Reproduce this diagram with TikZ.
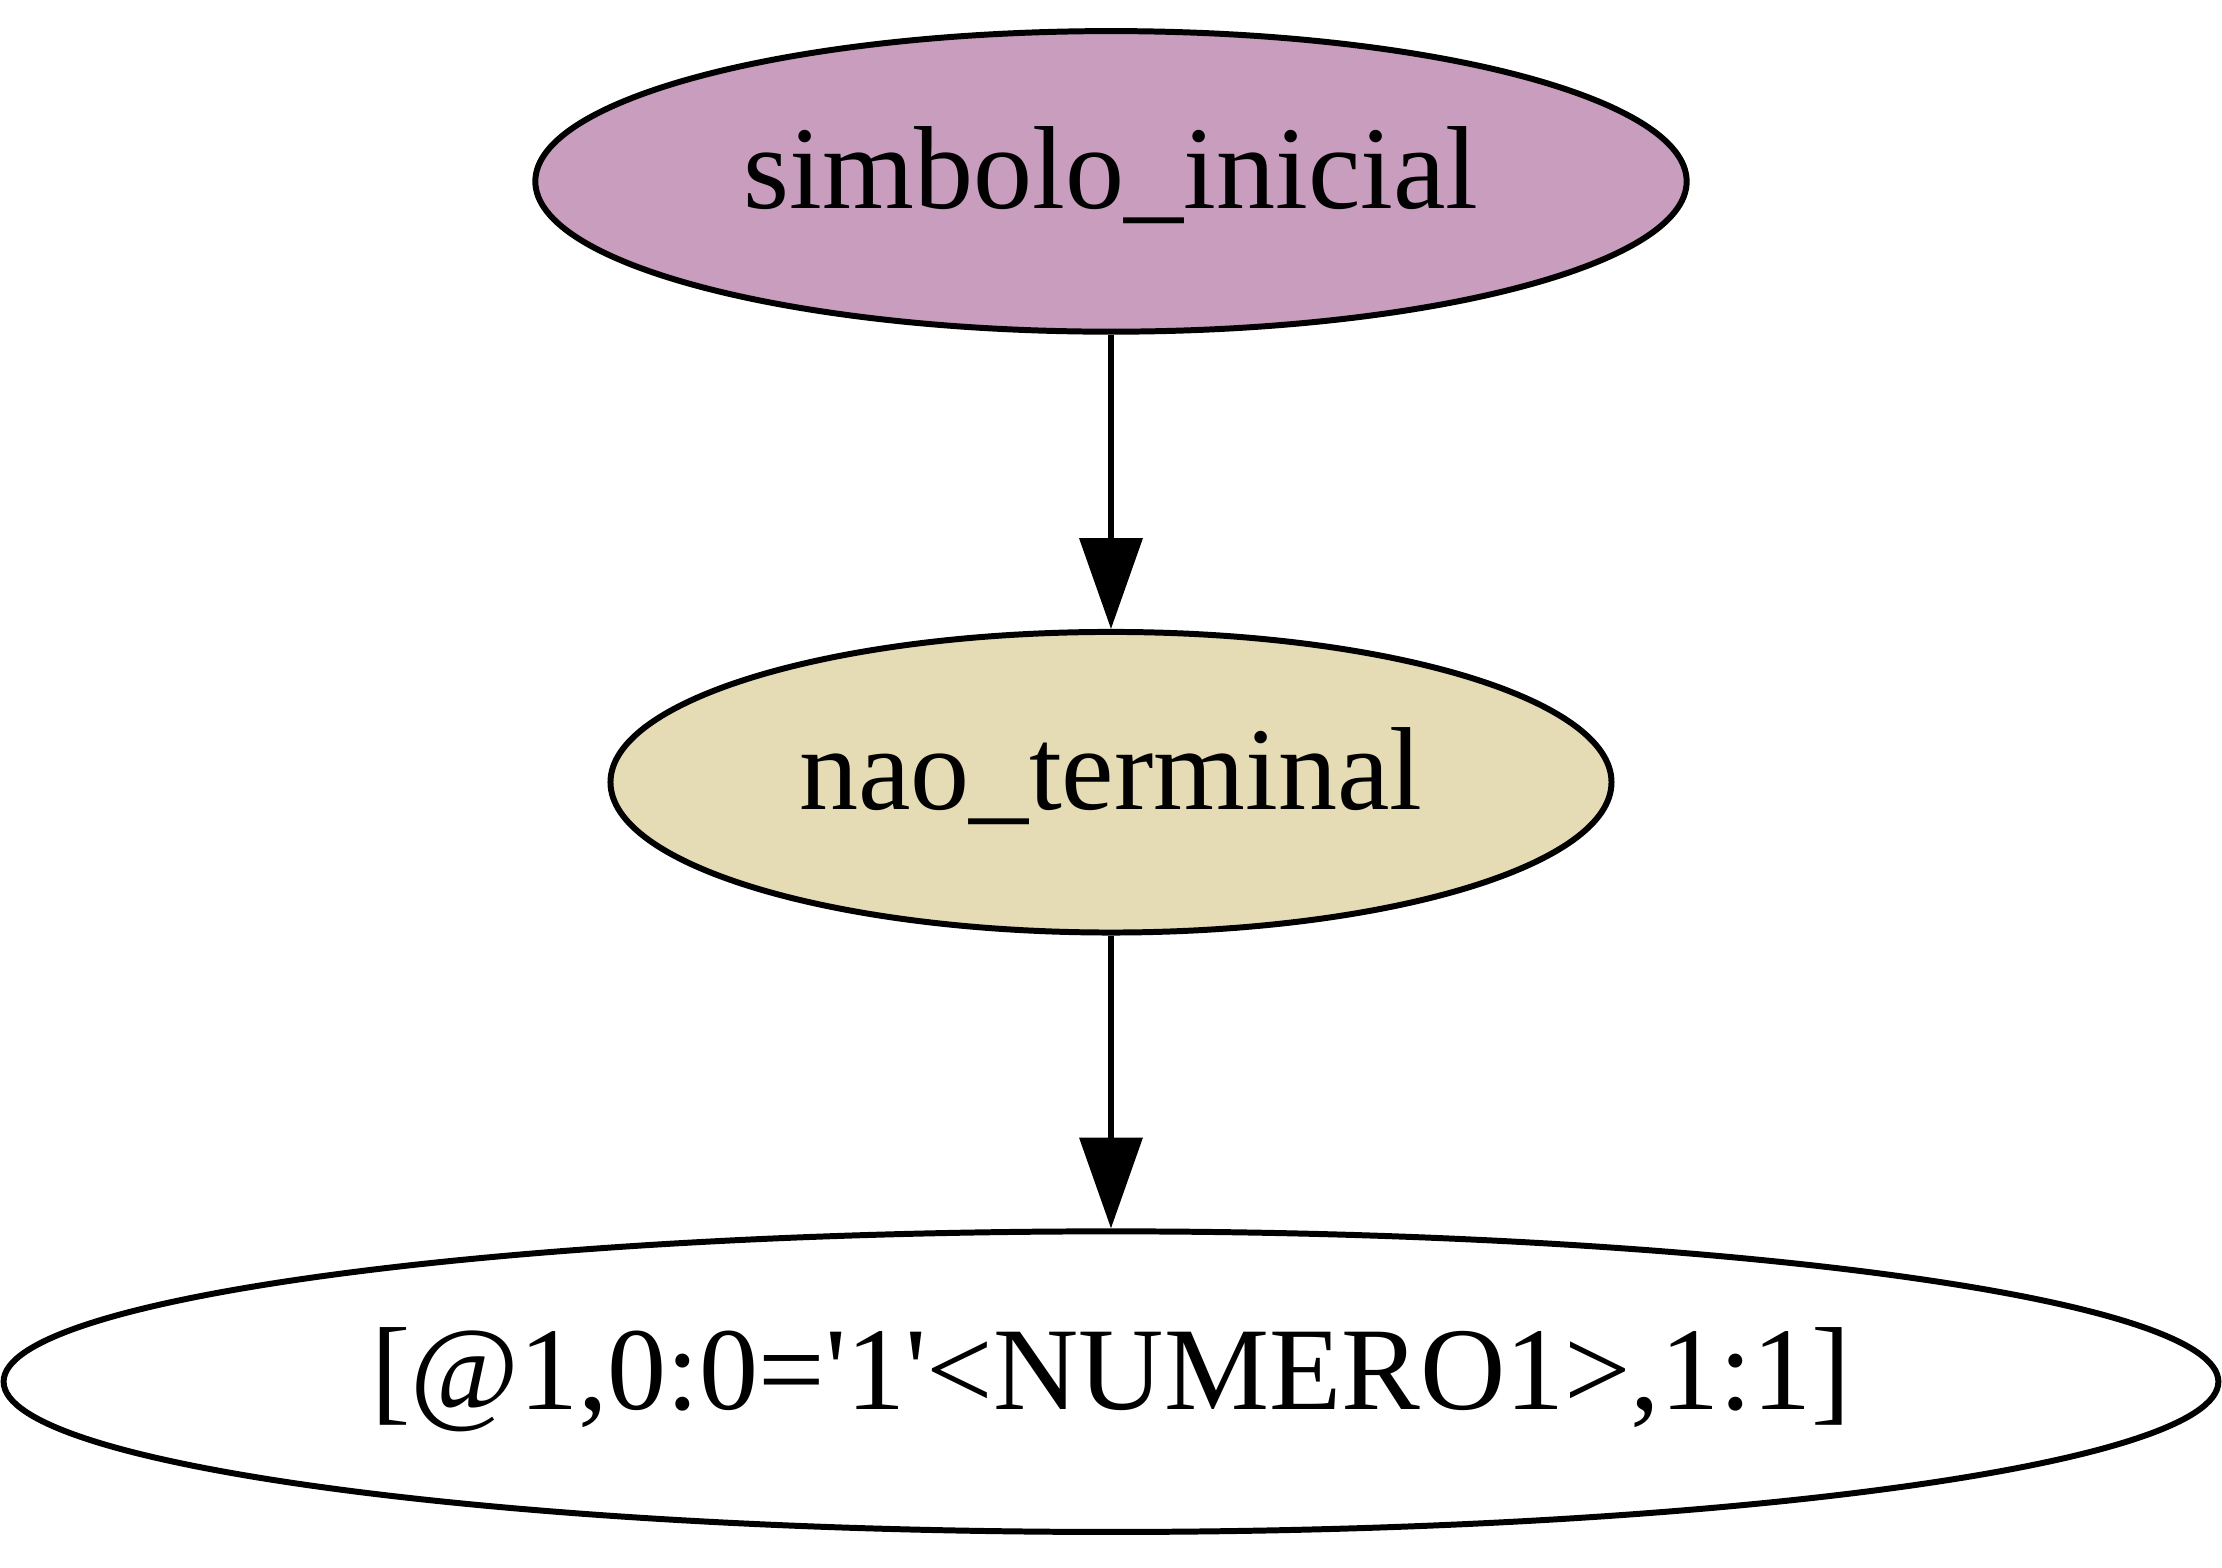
\documentclass[tikz,border=0pt]{standalone}
\usepackage{fontspec}
\setmainfont{Liberation Serif}
\usetikzlibrary{shapes.geometric,arrows.meta}
\definecolor{purp}{RGB}{200,157,190}
\definecolor{beig}{RGB}{229,219,181}
\begin{document}
\begin{tikzpicture}[x=0.01cm,y=-0.01cm,
  gnode/.style={ellipse,draw=black,line width=1.2pt,inner sep=0pt,minimum height=2.12cm,
    font=\fontsize{23.7}{28}\selectfont,text height=16pt,text depth=5pt},
  edge/.style={line width=1.1pt,-{Triangle[length=0.64cm,width=0.44cm]}}]
\useasboundingbox (0,0) rectangle (1568,1106);
\node[gnode,fill=purp,minimum width=8.12cm] (s) at (784,128) {simbolo\_inicial};
\node[gnode,fill=beig,minimum width=7.06cm] (n) at (784,552) {nao\_terminal};
\node[gnode,fill=white,minimum width=15.62cm] (t) at (784,975) {[@1,0:0=\textquotesingle 1\textquotesingle <NUMERO1>,1:1]};
\draw[edge] (s) -- (n);
\draw[edge] (n) -- (t);
\end{tikzpicture}
\end{document}
